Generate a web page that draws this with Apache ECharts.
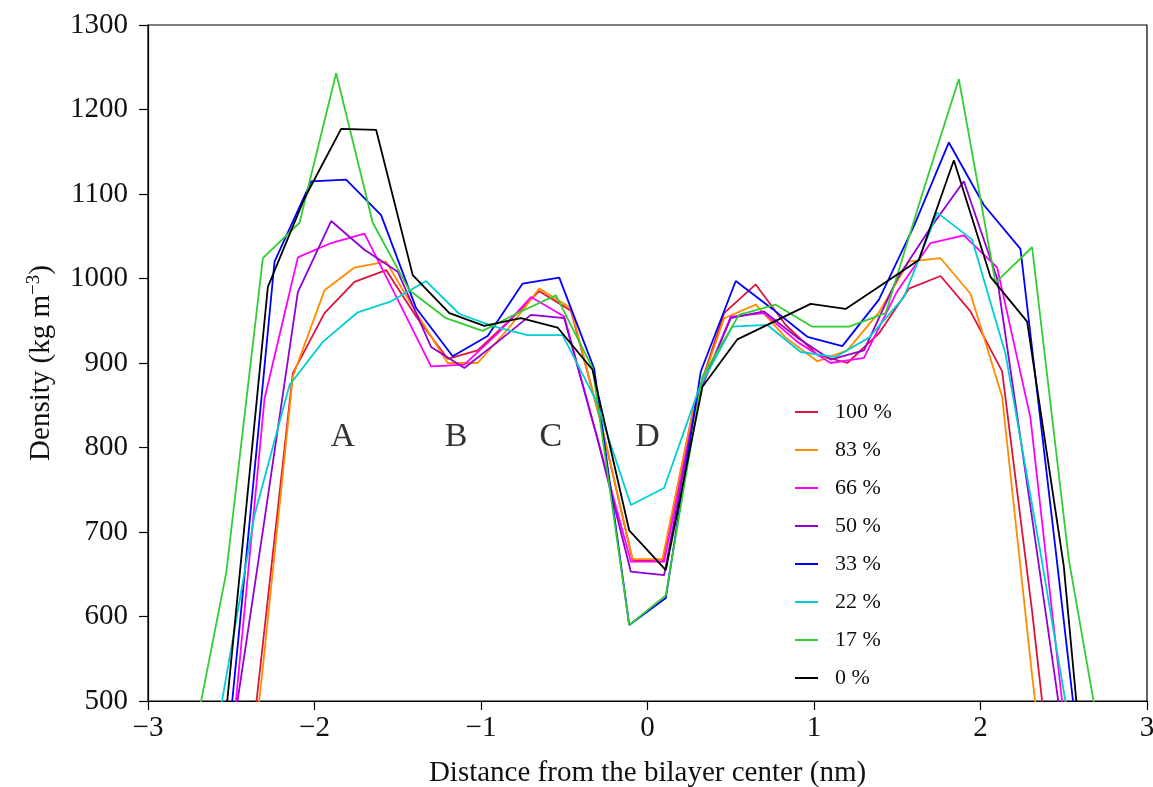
<!DOCTYPE html>
<html>
<head>
<meta charset="utf-8">
<script src="https://cdn.jsdelivr.net/npm/echarts@6/dist/echarts.min.js"></script>
<style>html,body{margin:0;padding:0;background:#fff;overflow:hidden}#c{width:1153px;height:787px}</style>
</head>
<body>
<div id="c"></div>
<script>
// ---- data ----
const seriesNames = ['100 %', '83 %', '66 %', '50 %', '33 %', '22 %', '17 %', '0 %'];
const seriesColors = ['#DC143C', '#FF8C00', '#FF00FF', '#9400D3', '#0000FF', '#00CED1', '#32CD32', '#000000'];

const x100 = [-2.50,-2.31,-2.13,-1.94,-1.76,-1.57,-1.39,-1.20,-1.02,-0.83,-0.65,-0.46,-0.28,-0.09,0.09,0.28,0.46,0.65,0.83,1.02,1.20,1.39,1.57,1.76,1.94,2.13,2.31,2.50];
const y100 = [230,568,888,959,996,1010,955,905,915,950,985,962,830,667,665,850,959,993,945,910,900,935,988,1003,961,890,606,270];

const x83 = [-2.50,-2.31,-2.13,-1.94,-1.76,-1.57,-1.39,-1.20,-1.02,-0.83,-0.65,-0.46,-0.28,-0.09,0.09,0.28,0.46,0.65,0.83,1.02,1.20,1.39,1.57,1.76,1.94,2.13,2.31,2.50];
const y83 = [200,540,884,986,1013,1020,960,900,900,942,988,965,830,668,668,850,953,969,930,902,915,960,1020,1024,982,860,530,220];

const x66 = [-2.5,-2.3,-2.1,-1.9,-1.7,-1.5,-1.3,-1.1,-0.9,-0.7,-0.5,-0.3,-0.1,0.1,0.3,0.5,0.7,0.9,1.1,1.3,1.5,1.7,1.9,2.1,2.3,2.5];
const y66 = [441,858,1025,1042,1053,975,896,898,935,978,955,810,665,665,860,955,959,925,900,906,985,1042,1051,1013,835,482];

const x50 = [-2.5,-2.3,-2.1,-1.9,-1.7,-1.5,-1.3,-1.1,-0.9,-0.7,-0.5,-0.3,-0.1,0.1,0.3,0.5,0.7,0.9,1.1,1.3,1.5,1.7,1.9,2.1,2.3,2.5];
const y50 = [450,715,984,1068,1034,1008,919,894,925,957,953,810,653,649,860,953,961,930,904,915,1000,1060,1115,1000,730,455];

const x33 = [-2.66,-2.45,-2.24,-2.02,-1.81,-1.60,-1.39,-1.17,-0.96,-0.75,-0.53,-0.32,-0.11,0.11,0.32,0.53,0.75,0.96,1.17,1.39,1.60,1.81,2.02,2.24,2.45,2.66];
const y33 = [170,588,1020,1115,1117,1075,965,908,932,994,1001,893,590,622,890,997,964,931,920,975,1062,1161,1087,1035,681,321];

const x22 = [-2.56,-2.36,-2.15,-1.95,-1.74,-1.54,-1.33,-1.13,-0.92,-0.72,-0.51,-0.31,-0.10,0.10,0.31,0.51,0.72,0.92,1.13,1.33,1.54,1.74,1.95,2.15,2.36,2.56];
const y22 = [495,720,874,925,960,973,997,958,943,933,933,856,732,752,870,943,945,913,907,930,978,1078,1046,911,676,441];

const x17 = [-2.75,-2.53,-2.31,-2.09,-1.87,-1.65,-1.43,-1.21,-0.99,-0.77,-0.55,-0.33,-0.11,0.11,0.33,0.55,0.77,0.99,1.21,1.43,1.65,1.87,2.09,2.31,2.53,2.75];
const y17 = [430,652,1024,1066,1243,1066,986,953,938,960,980,894,590,625,884,957,969,943,943,959,1100,1236,995,1037,668,420];

const x0 = [-2.71,-2.50,-2.28,-2.06,-1.84,-1.63,-1.41,-1.19,-0.98,-0.76,-0.54,-0.33,-0.11,0.11,0.33,0.54,0.76,0.98,1.19,1.41,1.63,1.84,2.06,2.28,2.50,2.71];
const y0 = [130,548,990,1095,1177,1176,1004,959,944,953,942,892,702,655,872,928,949,970,964,993,1022,1140,1002,949,660,215];

const regionLabels = ['A', 'B', 'C', 'D'];
const regionX = [-1.83, -1.15, -0.58, 0.0];
const regionY = [812, 812, 812, 812];

// ---- chart ----
const xs = [x100, x83, x66, x50, x33, x22, x17, x0];
const ys = [y100, y83, y66, y50, y33, y22, y17, y0];
const FONT = '"Liberation Serif", "Times New Roman", serif';

const lineSeries = seriesNames.map((name, i) => ({
  name: name,
  type: 'line',
  data: xs[i].map((x, j) => [x, ys[i][j]]),
  symbol: 'none',
  clip: true,
  lineStyle: { color: seriesColors[i], width: 1.8 },
  itemStyle: { color: seriesColors[i] },
  emphasis: { disabled: true },
  animation: false
}));

const labelSeries = {
  name: 'regions',
  type: 'scatter',
  symbolSize: 0,
  data: regionLabels.map((t, i) => ({ value: [regionX[i], regionY[i]], name: t })),
  label: {
    show: true,
    position: 'inside',
    formatter: p => p.name,
    fontFamily: FONT,
    fontSize: 34,
    color: '#000'
  },
  silent: true,
  animation: false
};

const chart = echarts.init(document.getElementById('c'), null, { renderer: 'canvas' });
chart.setOption({
  backgroundColor: '#fff',
  animation: false,
  grid: { left: 148, right: 6, top: 25, bottom: 86, containLabel: false, outerBoundsMode: 'none',
    show: true, borderColor: '#000', borderWidth: 1.2, backgroundColor: 'transparent' },
  legend: {
    data: seriesNames,
    orient: 'vertical',
    left: 790,
    top: 396,
    icon: 'rect',
    itemWidth: 23,
    itemHeight: 2,
    itemGap: 16,
    textStyle: { fontFamily: FONT, fontSize: 22, color: '#111', padding: [0, 0, 0, 12], lineHeight: 22 }
  },
  xAxis: {
    type: 'value',
    min: -3, max: 3, interval: 1,
    name: 'Distance from the bilayer center (nm)',
    nameLocation: 'middle',
    nameGap: 58,
    nameTextStyle: { fontFamily: FONT, fontSize: 29, color: '#111' },
    axisLine: { show: true, onZero: false, lineStyle: { color: '#000', width: 1.2 } },
    axisTick: { show: true, inside: false, length: 9, lineStyle: { color: '#000', width: 1.2 } },
    axisLabel: { fontFamily: FONT, fontSize: 29, color: '#111', margin: 13,
      formatter: v => (v < 0 ? '\u2212' + Math.abs(v) : String(v)) },
    splitLine: { show: false }
  },
  yAxis: {
    type: 'value',
    min: 500, max: 1300, interval: 100,
    name: 'Density (kg m{sup|\u22123})',
    nameLocation: 'middle',
    nameGap: 90,
    nameRotate: 90,
    nameTextStyle: { fontFamily: FONT, fontSize: 29, color: '#111',
      rich: { sup: { fontFamily: FONT, fontSize: 19, color: '#111', verticalAlign: 'top', padding: [0, 0, 14, 0] } } },
    axisLine: { show: true, onZero: false, lineStyle: { color: '#000', width: 1.2 } },
    axisTick: { show: true, inside: false, length: 9, lineStyle: { color: '#000', width: 1.2 } },
    axisLabel: { fontFamily: FONT, fontSize: 29, color: '#111', margin: 20, formatter: v => String(v) },
    splitLine: { show: false }
  },
  series: lineSeries.concat([labelSeries])
});
</script>
</body>
</html>
